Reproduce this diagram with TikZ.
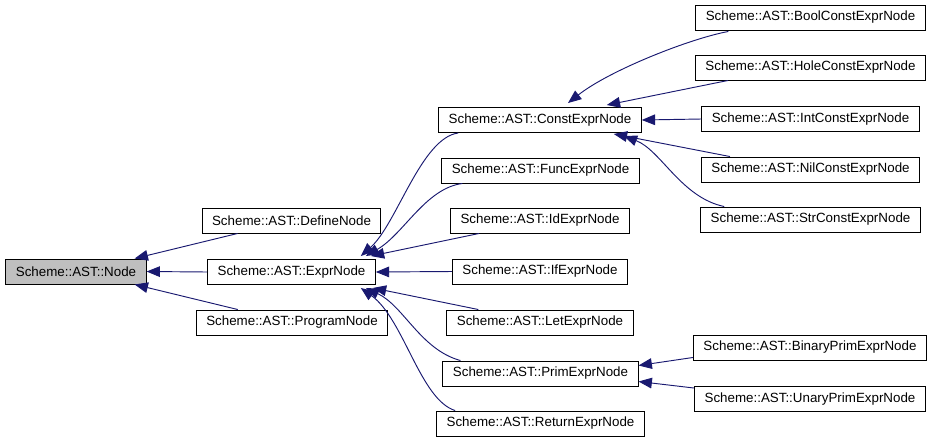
\documentclass[tikz,border=0pt]{standalone}
\usepackage{fontspec}
\setmainfont{Liberation Sans}
\usetikzlibrary{arrows.meta,calc}
\definecolor{doxyedge}{RGB}{25,25,112}
\definecolor{doxygray}{RGB}{191,191,191}

\begin{document}
\begin{tikzpicture}[x=0.03cm,y=-0.03cm,>={Triangle[length=0.4cm,width=0.32cm]},
  box/.style={draw,line width=0.8pt,minimum height=0.75cm,inner xsep=0.3cm,font=\fontsize{11.4}{13}\selectfont},
  inh/.style={->,doxyedge,line width=0.8pt}]
\useasboundingbox (0,0) rectangle (933,443);
% classes
\node[box,fill=doxygray] (node) at (76,271.5) {Scheme::AST::Node};
\node[box] (define) at (291.5,220.5) {Scheme::AST::DefineNode};
\node[box] (expr) at (291.5,272) {Scheme::AST::ExprNode};
\node[box] (program) at (292,322.5) {Scheme::AST::ProgramNode};
\node[box] (constexpr) at (540,120) {Scheme::AST::ConstExprNode};
\node[box] (func) at (540.5,170.5) {Scheme::AST::FuncExprNode};
\node[box] (id) at (540,220.5) {Scheme::AST::IdExprNode};
\node[box] (ifexpr) at (540,271.5) {Scheme::AST::IfExprNode};
\node[box] (let) at (540,322.5) {Scheme::AST::LetExprNode};
\node[box] (prim) at (540.5,373.5) {Scheme::AST::PrimExprNode};
\node[box] (ret) at (540.5,423.5) {Scheme::AST::ReturnExprNode};
\node[box] (boolc) at (810.5,17.5) {Scheme::AST::BoolConstExprNode};
\node[box] (hole) at (810.5,67.5) {Scheme::AST::HoleConstExprNode};
\node[box] (intc) at (810.5,119) {Scheme::AST::IntConstExprNode};
\node[box] (nilc) at (810.5,169.5) {Scheme::AST::NilConstExprNode};
\node[box] (strc) at (810.5,219.5) {Scheme::AST::StrConstExprNode};
\node[box] (binary) at (810,347.5) {Scheme::AST::BinaryPrimExprNode};
\node[box] (unary) at (810,399) {Scheme::AST::UnaryPrimExprNode};
% inheritance edges, child -> parent
\draw[inh] ($(define.south west)+(36,0)$) -- ($(node.north east)+(-12,0)$);
\draw[inh] (expr.west) -- (node.east);
\draw[inh] ($(program.north west)+(42,0)$) -- ($(node.south east)+(-12,0)$);
\draw[inh] ($(constexpr.south west)+(20,0)$) .. controls +(-37,5) and +(36,-32) .. ($(expr.north east)+(-15,-3)$);
\draw[inh] ($(func.south west)+(21,0)$) .. controls +(-37,5) and +(38,-22) .. ($(expr.north east)+(-10,-3)$);
\draw[inh] ($(id.south west)+(29,0)$) -- ($(expr.north east)+(-5,-3)$);
\draw[inh] (ifexpr.west) -- (expr.east);
\draw[inh] ($(let.north west)+(32,0)$) -- ($(expr.south east)+(-3,3)$);
\draw[inh] ($(prim.north west)+(18,0)$) .. controls +(-40,-11) and +(38,18) .. ($(expr.south east)+(-10,3)$);
\draw[inh] ($(ret.north west)+(19,0)$) .. controls +(-35,-11) and +(43,31) .. ($(expr.south east)+(-15,3)$);
\draw[inh] ($(boolc.south west)+(33,1)$) .. controls +(-38,7) and +(42,-33) .. ($(constexpr.north)+(28,-4)$);
\draw[inh] ($(hole.south west)+(33,0)$) -- ($(constexpr.north east)+(-35,-2)$);
\draw[inh] (intc.west) -- (constexpr.east);
\draw[inh] ($(nilc.north west)+(29,0)$) -- ($(constexpr.south east)+(-28,1)$);
\draw[inh] ($(strc.north west)+(24,0)$) .. controls +(-43,-9) and +(37,14) .. ($(constexpr.south east)+(-18,3)$);
\draw[inh] ($(binary.south west)+(0,-3)$) -- ($(prim.east)+(0,-8)$);
\draw[inh] ($(unary.north west)+(0,2)$) -- ($(prim.east)+(0,8)$);
\end{tikzpicture}
\end{document}
